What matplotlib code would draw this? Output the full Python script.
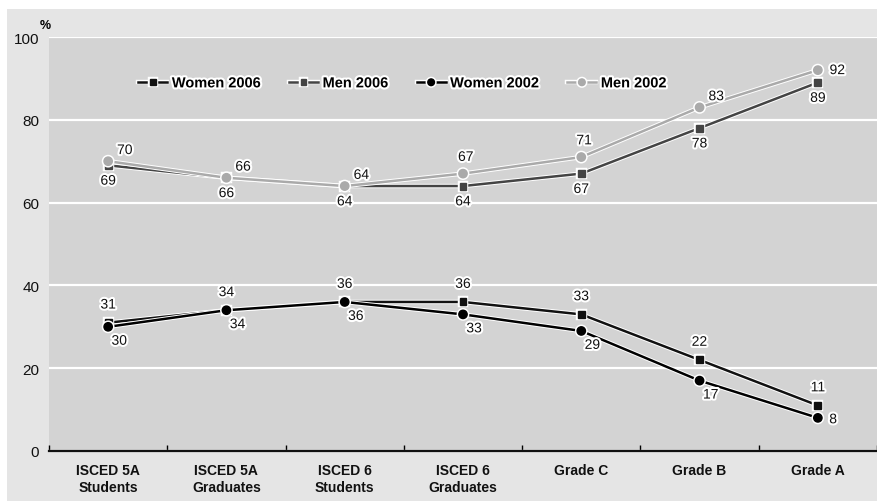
import matplotlib.pyplot as plt
import matplotlib.patheffects as pe
from matplotlib.patches import Rectangle
import numpy as np

categories = ["ISCED 5A\nStudents", "ISCED 5A\nGraduates", "ISCED 6\nStudents",
              "ISCED 6\nGraduates", "Grade C", "Grade B", "Grade A"]
women_2006 = [31, 34, 36, 36, 33, 22, 11]
men_2006 = [69, 66, 64, 64, 67, 78, 89]
women_2002 = [30, 34, 36, 33, 29, 17, 8]
men_2002 = [70, 66, 64, 67, 71, 83, 92]
yticks = [0, 20, 40, 60, 80, 100]

plt.rcParams["font.family"] = ["Liberation Sans", "DejaVu Sans"]

glow = [pe.withStroke(linewidth=3, foreground="white")]
line_glow = [pe.Stroke(linewidth=3.2, foreground="white"), pe.Normal()]

fig = plt.figure(figsize=(8.77, 5.02), dpi=100)
fig.patch.set_facecolor("white")
fig.patches.append(Rectangle((7 / 877, 0), 1, 1 - 10 / 502, transform=fig.transFigure,
                             facecolor="#e5e5e5", edgecolor="none", zorder=-10))

ax = fig.add_axes([49 / 877, 1 - 452 / 502, 1 - 49 / 877, (452 - 38) / 502])
ax.set_facecolor("#d3d3d3")
x = np.arange(len(categories)) + 0.5

series = [
    ("Women 2006", women_2006, "#111111", "s"),
    ("Men 2006", men_2006, "#444444", "s"),
    ("Women 2002", women_2002, "#000000", "o"),
    ("Men 2002", men_2002, "#aaaaaa", "o"),
]
for name, vals, col, mk in series:
    ax.plot(x, vals, color=col, marker=mk, markersize=6 if mk == "o" else 5, lw=1.8,
            label=name, path_effects=line_glow, zorder=3)

lab = dict(fontsize=10, color="#111111", path_effects=glow, zorder=5)
for i, v in enumerate(women_2006):
    ax.annotate(str(v), (x[i], v), xytext=(0, 8), textcoords="offset points",
                ha="center", va="bottom", **lab)
for i, v in enumerate(women_2002):
    off = (11, -1) if i == 6 else (8, -5)
    ax.annotate(str(v), (x[i], v), xytext=off, textcoords="offset points",
                ha="center", va="center" if i == 6 else "top", **lab)
for i, v in enumerate(men_2006):
    ax.annotate(str(v), (x[i], v), xytext=(0, -6), textcoords="offset points",
                ha="center", va="top", **lab)
for i, v in enumerate(men_2002):
    if i == 6:
        off, va = (14, 0), "center"
    elif i in (3, 4):
        off, va = (2, 7), "bottom"
    else:
        off, va = (12, 3), "bottom"
    ax.annotate(str(v), (x[i], v), xytext=off, textcoords="offset points",
                ha="center", va=va, **lab)

ax.set_xlim(0, 7)
ax.set_ylim(0, 100)
ax.set_yticks(yticks)
ax.set_yticklabels([str(t) for t in yticks], fontsize=11)
ax.grid(axis="y", color="white", lw=1.6, zorder=1)
ax.set_axisbelow(True)
ax.tick_params(axis="y", length=0, pad=7, labelcolor="#111111")

ax.set_xticks(x)
ax.set_xticklabels(categories, fontsize=10, fontweight="bold", color="#111111",
                   linespacing=1.2)
ax.set_xticks(np.arange(8), minor=True)
ax.tick_params(axis="x", which="major", length=0, pad=9)
ax.tick_params(axis="x", which="minor", length=4, direction="in", width=1)

for s in ["top", "right", "left"]:
    ax.spines[s].set_visible(False)
ax.spines["bottom"].set_color("#111111")
ax.spines["bottom"].set_linewidth(1.6)

ax.text(-0.08, 101.5, "%", fontsize=9, fontweight="bold", ha="left", va="bottom",
        transform=ax.transData, clip_on=False)

leg = ax.legend(loc="center left", bbox_to_anchor=(0.092, 0.888), ncol=4, frameon=False,
                handlelength=2.0, handletextpad=0.3, columnspacing=1.9,
                prop={"weight": "bold", "size": 10.5}, markerscale=0.8)
for t in leg.get_texts():
    t.set_path_effects(glow)

fig.savefig("out.png", dpi=100)
